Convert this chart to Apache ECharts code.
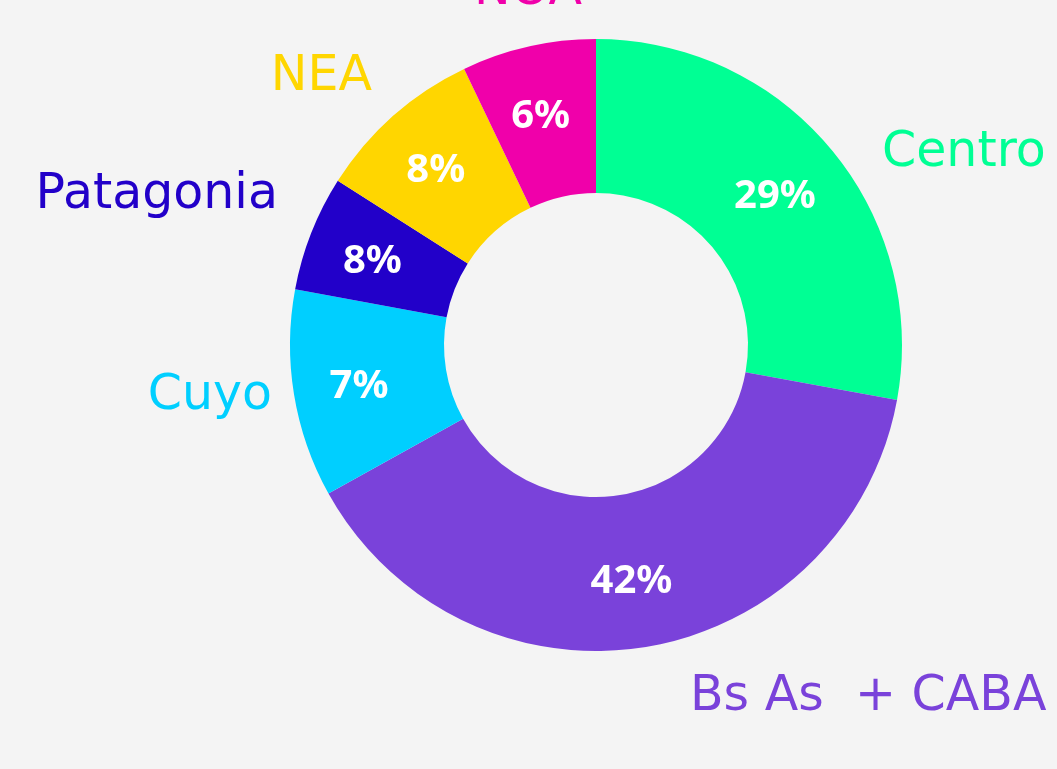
<!DOCTYPE html>
<html>
<head>
<meta charset="utf-8">
<script src="https://cdn.jsdelivr.net/npm/echarts@6/dist/echarts.min.js"></script>
<style>
  html, body { margin: 0; padding: 0; background: #f4f4f4; }
  #chart { width: 1057px; height: 769px; }
</style>
</head>
<body>
<div id="chart"></div>
<script>
// regions, slice sizes as drawn, and the printed percentage labels
const regions = ['Centro', 'Bs As  + CABA', 'Cuyo', 'Patagonia', 'NEA', 'NOA']
const sliceValues = [27.9, 39.1, 11.0, 6.1, 8.9, 7.1]
const pctLabels = ['29%', '42%', '7%', '8%', '8%', '6%']
const colors = ['#00ff94', '#7a42da', '#00cfff', '#2200c9', '#ffd600', '#f000aa']

// where the region names sit (text anchor)
const namePos = [
  { x: 882, y: 153, align: 'left' },
  { x: 690, y: 697, align: 'left' },
  { x: 272, y: 396, align: 'right' },
  { x: 278, y: 195, align: 'right' },
  { x: 372, y: 77, align: 'right' },
  { x: 528, y: -9, align: 'center' }
]

const NAME_FONT = '"DejaVu Sans", "Noto Sans", sans-serif'
const PCT_FONT = '"Noto Sans", "Open Sans", sans-serif'

const chart = echarts.init(document.getElementById('chart'))
chart.setOption({
  backgroundColor: '#f4f4f4',
  animation: false,
  series: [
    {
      type: 'pie',
      center: [596, 345],
      radius: [152, 306],
      startAngle: 90,
      silent: true,
      avoidLabelOverlap: false,
      data: regions.map((name, i) => ({
        name,
        value: sliceValues[i],
        itemStyle: { color: colors[i] },
        label: { color: colors[i] }
      })),
      label: {
        show: true,
        position: 'outside',
        formatter: '{b}',
        fontFamily: NAME_FONT,
        fontSize: 49,
        fontWeight: 400
      },
      labelLine: { show: false },
      labelLayout: (p) => ({
        x: namePos[p.dataIndex].x,
        y: namePos[p.dataIndex].y,
        align: namePos[p.dataIndex].align,
        verticalAlign: 'middle',
        hideOverlap: false
      })
    },
    {
      type: 'pie',
      center: [596, 345],
      radius: [162, 306],
      startAngle: 90,
      silent: true,
      itemStyle: { color: 'rgba(0,0,0,0)' },
      data: regions.map((name, i) => ({ name, value: sliceValues[i] })),
      label: {
        show: true,
        position: 'inside',
        formatter: (p) => pctLabels[p.dataIndex],
        color: '#fff',
        fontFamily: PCT_FONT,
        fontSize: 40,
        fontWeight: 'bold',
        offset: [-3, 3]
      },
      labelLine: { show: false }
    }
  ]
})
</script>
</body>
</html>
